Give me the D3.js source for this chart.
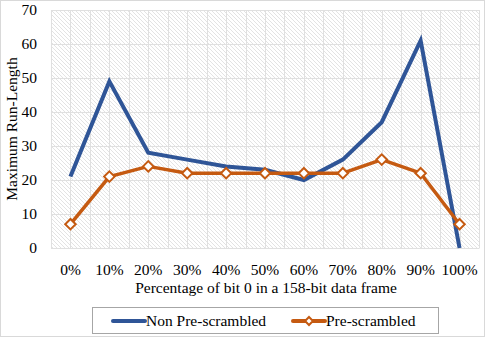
<!DOCTYPE html>
<html>
<head>
<meta charset="utf-8">
<script src="https://cdn.jsdelivr.net/npm/d3@7"></script>
<style>
  body { margin: 0; background: #fff; }
  svg { display: block; }
</style>
</head>
<body>
<svg width="485" height="339"></svg>
<script>
const categories = ['0%', '10%', '20%', '30%', '40%', '50%', '60%', '70%', '80%', '90%', '100%'];
const nonPreScrambled = [21, 49, 28, 26, 24, 23, 20, 26, 37, 61, 0];
const preScrambled = [7, 21, 24, 22, 22, 22, 22, 22, 26, 22, 7];
const yTicks = [0, 10, 20, 30, 40, 50, 60, 70];

const serif = 'Liberation Serif';
const fontSize = 15.5;

const margin = { left: 51, right: 6, top: 10, bottom: 91 };
const svg = d3.select('svg');
const width = +svg.attr('width');
const height = +svg.attr('height');
const innerWidth = width - margin.left - margin.right;
const innerHeight = height - margin.top - margin.bottom;

const blue = '#2F5597';
const orange = '#C55A11';

// outer chart border
svg.append('rect')
  .attr('x', 0.5).attr('y', 0.5)
  .attr('width', width - 1).attr('height', height - 3)
  .attr('fill', '#fff')
  .attr('stroke', '#d9d9d9');

// hatch pattern for plot area
const defs = svg.append('defs');
const pat = defs.append('pattern')
  .attr('id', 'hatch')
  .attr('patternUnits', 'userSpaceOnUse')
  .attr('width', 4).attr('height', 4);
pat.append('rect').attr('width', 4).attr('height', 4).attr('fill', '#fff');
pat.append('path')
  .attr('d', 'M-1,-1 L5,5 M-1,3 L1,5 M3,-1 L5,1')
  .attr('stroke', '#e3e3e3')
  .attr('stroke-width', 1);

const g = svg.append('g')
  .attr('transform', `translate(${margin.left}, ${margin.top})`);

const xScale = d3.scaleBand()
  .domain(categories)
  .range([0, innerWidth]);

const yScale = d3.scaleLinear()
  .domain([0, 70])
  .range([innerHeight, 0]);

const xPos = d => xScale(d) + xScale.bandwidth() / 2;

g.append('rect')
  .attr('width', innerWidth).attr('height', innerHeight)
  .attr('fill', 'url(#hatch)');

// vertical gridlines at band edges and centres
const vLines = [];
categories.forEach(c => { vLines.push(xScale(c)); vLines.push(xPos(c)); });
vLines.push(innerWidth);
g.selectAll('.vgrid')
  .data(vLines)
  .enter()
  .append('line')
  .attr('class', 'vgrid')
  .attr('x1', d => Math.round(d) + 0.5).attr('x2', d => Math.round(d) + 0.5)
  .attr('y1', 0).attr('y2', innerHeight)
  .attr('stroke', '#e0e0e0')
  .attr('stroke-width', 1);

// y axis with gridlines
const yAxis = d3.axisLeft(yScale)
  .tickValues(yTicks)
  .tickSize(-innerWidth)
  .tickPadding(14);

const yg = g.append('g').call(yAxis)
  .attr('font-family', serif)
  .attr('font-size', fontSize);
yg.select('.domain').remove();
yg.selectAll('.tick line').attr('stroke', '#e0e0e0');
yg.selectAll('.tick text').attr('fill', '#000');

// x axis
const xAxis = d3.axisBottom(xScale).tickSize(0).tickPadding(16);
const xg = g.append('g')
  .attr('transform', `translate(0, ${innerHeight})`)
  .call(xAxis)
  .attr('font-family', serif)
  .attr('font-size', fontSize);
xg.select('.domain').attr('stroke', '#e0e0e0');
xg.selectAll('.tick text').attr('fill', '#000');

// axis labels
svg.append('text')
  .attr('transform', `translate(17, ${margin.top + innerHeight / 2}) rotate(-90)`)
  .attr('text-anchor', 'middle')
  .attr('font-family', serif)
  .attr('font-size', fontSize)
  .text('Maximum Run-Length');

svg.append('text')
  .attr('x', margin.left + innerWidth / 2 + 1)
  .attr('y', 293)
  .attr('text-anchor', 'middle')
  .attr('font-family', serif)
  .attr('font-size', fontSize)
  .text('Percentage of bit 0 in a 158-bit data frame');

// lines
const line = data => d3.line()
  .x((d, i) => xPos(categories[i]))
  .y(d => yScale(d))(data);

g.append('path')
  .attr('d', line(nonPreScrambled))
  .attr('fill', 'none')
  .attr('stroke', blue)
  .attr('stroke-width', 4)
  .attr('stroke-linejoin', 'miter');

g.append('path')
  .attr('d', line(preScrambled))
  .attr('fill', 'none')
  .attr('stroke', orange)
  .attr('stroke-width', 3.5)
  .attr('stroke-linejoin', 'round');

const diamond = d3.symbol().type(d3.symbolDiamond2).size(70);
g.selectAll('.marker')
  .data(preScrambled)
  .enter()
  .append('path')
  .attr('class', 'marker')
  .attr('transform', (d, i) => `translate(${xPos(categories[i])}, ${yScale(d)})`)
  .attr('d', diamond)
  .attr('fill', '#fff')
  .attr('stroke', orange)
  .attr('stroke-width', 2);

// legend
const legend = svg.append('g');
legend.append('rect')
  .attr('x', 92.5).attr('y', 307.5)
  .attr('width', 346).attr('height', 26)
  .attr('fill', '#fff')
  .attr('stroke', '#a6a6a6');

const legendItems = [
  { name: 'Non Pre-scrambled', color: blue, x: 113, marker: false },
  { name: 'Pre-scrambled', color: orange, x: 293, marker: true }
];
const li = legend.selectAll('.legend')
  .data(legendItems)
  .enter()
  .append('g')
  .attr('class', 'legend')
  .attr('transform', d => `translate(${d.x}, 321)`);

li.append('line')
  .attr('x1', 0).attr('x2', 32)
  .attr('stroke', d => d.color)
  .attr('stroke-width', 4)
  .attr('stroke-linecap', 'round');

li.filter(d => d.marker)
  .append('path')
  .attr('transform', 'translate(16, 0)')
  .attr('d', d3.symbol().type(d3.symbolDiamond2).size(40))
  .attr('fill', '#fff')
  .attr('stroke', orange)
  .attr('stroke-width', 2);

li.append('text')
  .attr('x', 33)
  .attr('y', 5)
  .attr('font-family', serif)
  .attr('font-size', fontSize)
  .text(d => d.name);
</script>
</body>
</html>
